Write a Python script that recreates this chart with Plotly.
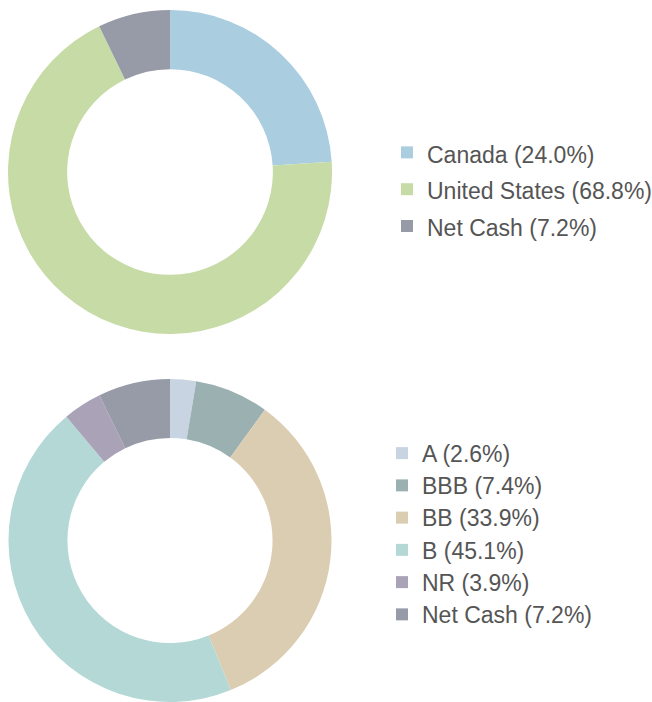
import plotly.graph_objects as go

region_labels = ["Canada", "United States", "Net Cash"]
region_values = [24.0, 68.8, 7.2]
region_colors = ["#aacde0", "#c6dba6", "#979ba8"]

rating_labels = ["A", "BBB", "BB", "B", "NR", "Net Cash"]
rating_values = [2.6, 7.4, 33.9, 45.1, 3.9, 7.2]
rating_colors = ["#c8d4e2", "#9bb0b1", "#dbcdb2", "#b4d8d6", "#aaa3b8", "#979ba8"]


def make_labels(names, vals, style):
    return [f"<span style='{style}'>{n} ({v:.1f}%)</span>" for n, v in zip(names, vals)]


W, H = 652, 702
fig = go.Figure()
fig.add_trace(go.Pie(
    labels=make_labels(region_labels, region_values, "font-size:23px"),
    values=region_values,
    marker=dict(colors=region_colors, line=dict(width=0)),
    hole=0.635, sort=False, direction="clockwise", rotation=0,
    textinfo="none", hoverinfo="label+value",
    domain=dict(x=[8/W, 332/W], y=[1-334/H, 1-10/H]),
    legend="legend",
))
fig.add_trace(go.Pie(
    labels=make_labels(rating_labels, rating_values, "font-size:23px;"),
    values=rating_values,
    marker=dict(colors=rating_colors, line=dict(width=0)),
    hole=0.635, sort=False, direction="clockwise", rotation=0,
    textinfo="none", hoverinfo="label+value",
    domain=dict(x=[8/W, 332/W], y=[0, 1-379/H]),
    legend="legend2",
))
fig.update_layout(
    width=W, height=H,
    margin=dict(l=0, r=0, t=0, b=0, autoexpand=False),
    paper_bgcolor="white", plot_bgcolor="white",
    font=dict(family="Liberation Sans, Arial, sans-serif", color="#555555"),
    legend=dict(x=387/W, xref="container", xanchor="left",
                y=1-189.5/H, yanchor="middle",
                font=dict(size=26, color="#555555"), bgcolor="rgba(0,0,0,0)",
                borderwidth=0),
    legend2=dict(x=382/W, xref="container", xanchor="left",
                 y=1-534/H, yanchor="middle",
                 font=dict(size=22.5, color="#555555"), bgcolor="rgba(0,0,0,0)",
                 borderwidth=0),
)
fig.write_html("out.html", config={"displayModeBar": False},
               post_script="document.body.style.margin='0';document.body.style.overflow='hidden';")
